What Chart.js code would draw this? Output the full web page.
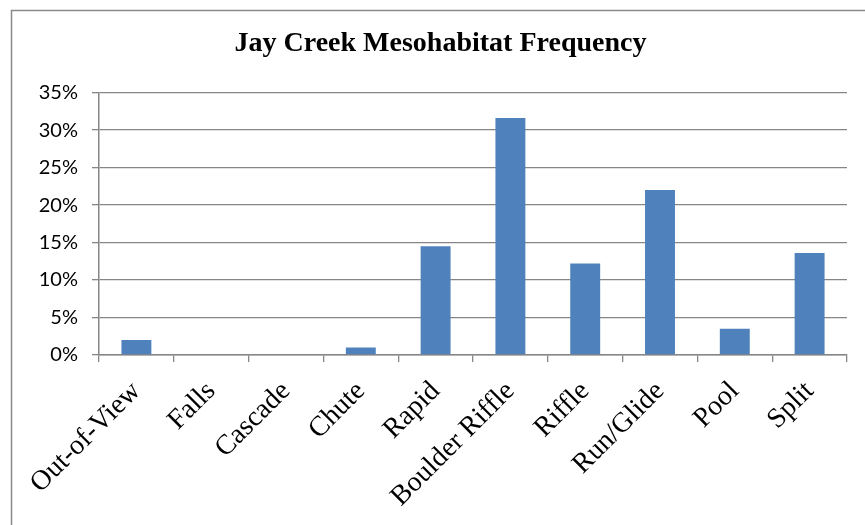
<!DOCTYPE html>
<html>
<head>
<meta charset="utf-8">
<title>Jay Creek Mesohabitat Frequency</title>
<script src="https://cdn.jsdelivr.net/npm/chart.js@4/dist/chart.umd.min.js"></script>
<style>
  html, body { margin: 0; padding: 0; background: #ffffff; }
  #wrap { width: 865px; height: 525px; position: relative; }
</style>
</head>
<body>
<div id="wrap"><canvas id="chart" width="865" height="525"></canvas></div>
<script>
// Mesohabitat categories along the stream survey
const habitats = ['Out-of-View', 'Falls', 'Cascade', 'Chute', 'Rapid', 'Boulder Riffle', 'Riffle', 'Run/Glide', 'Pool', 'Split'];
// Share of surveyed length in each mesohabitat (percent)
const frequency = [2.0, 0, 0, 1.0, 14.5, 31.6, 12.2, 22.0, 3.5, 13.6];
// Percent axis ticks
const percentTicks = [0, 5, 10, 15, 20, 25, 30, 35];

const axisGray = '#868686';

// Frame line along the top and left edges of the chart panel
const framePlugin = {
  id: 'frame',
  beforeDraw(chart) {
    const ctx = chart.ctx;
    ctx.save();
    ctx.fillStyle = '#ffffff';
    ctx.fillRect(0, 0, chart.width, chart.height);
    ctx.strokeStyle = '#8a8a8a';
    ctx.lineWidth = 1.5;
    ctx.beginPath();
    ctx.moveTo(11.5, chart.height + 5);
    ctx.lineTo(11.5, 10.5);
    ctx.lineTo(chart.width + 5, 10.5);
    ctx.stroke();
    ctx.restore();
  }
};

new Chart(document.getElementById('chart'), {
  type: 'bar',
  data: {
    labels: habitats,
    datasets: [{
      data: frequency,
      backgroundColor: '#4F81BD',
      borderWidth: 0,
      barPercentage: 0.4,
      categoryPercentage: 1.0
    }]
  },
  plugins: [framePlugin],
  options: {
    responsive: false,
    devicePixelRatio: 1,
    animation: false,
    layout: { padding: { left: 34, right: 18, top: 0, bottom: 0 } },
    plugins: {
      legend: { display: false },
      tooltip: { enabled: false },
      title: {
        display: true,
        text: 'Jay Creek Mesohabitat Frequency',
        color: '#000000',
        font: { family: '"Liberation Serif", "Times New Roman", serif', weight: 'bold', size: 28, lineHeight: 1.2 },
        padding: { top: 27, bottom: 32 }
      }
    },
    scales: {
      x: {
        afterFit(scale) { scale.height = 170; },
        grid: {
          display: true,
          offset: true,
          drawOnChartArea: false,
          drawTicks: true,
          tickLength: 7,
          color: axisGray,
          lineWidth: 1.3
        },
        border: { display: true, color: axisGray, width: 1.5 },
        ticks: {
          autoSkip: false,
          maxRotation: 45,
          minRotation: 45,
          padding: 13,
          color: '#000000',
          font: { family: '"Liberation Serif", "Times New Roman", serif', size: 28 }
        }
      },
      y: {
        min: 0,
        max: 35,
        afterFit(scale) { scale.width = 65; },
        afterBuildTicks(scale) { scale.ticks = percentTicks.map(v => ({ value: v })); },
        grid: {
          color: axisGray,
          lineWidth: 1.3,
          drawTicks: true,
          tickLength: 7
        },
        border: { display: true, color: axisGray, width: 1.5 },
        ticks: {
          padding: 14,
          color: '#000000',
          font: { family: 'Lato, "Liberation Sans", sans-serif', size: 20 },
          callback: v => v + '%'
        }
      }
    }
  }
});
</script>
</body>
</html>
